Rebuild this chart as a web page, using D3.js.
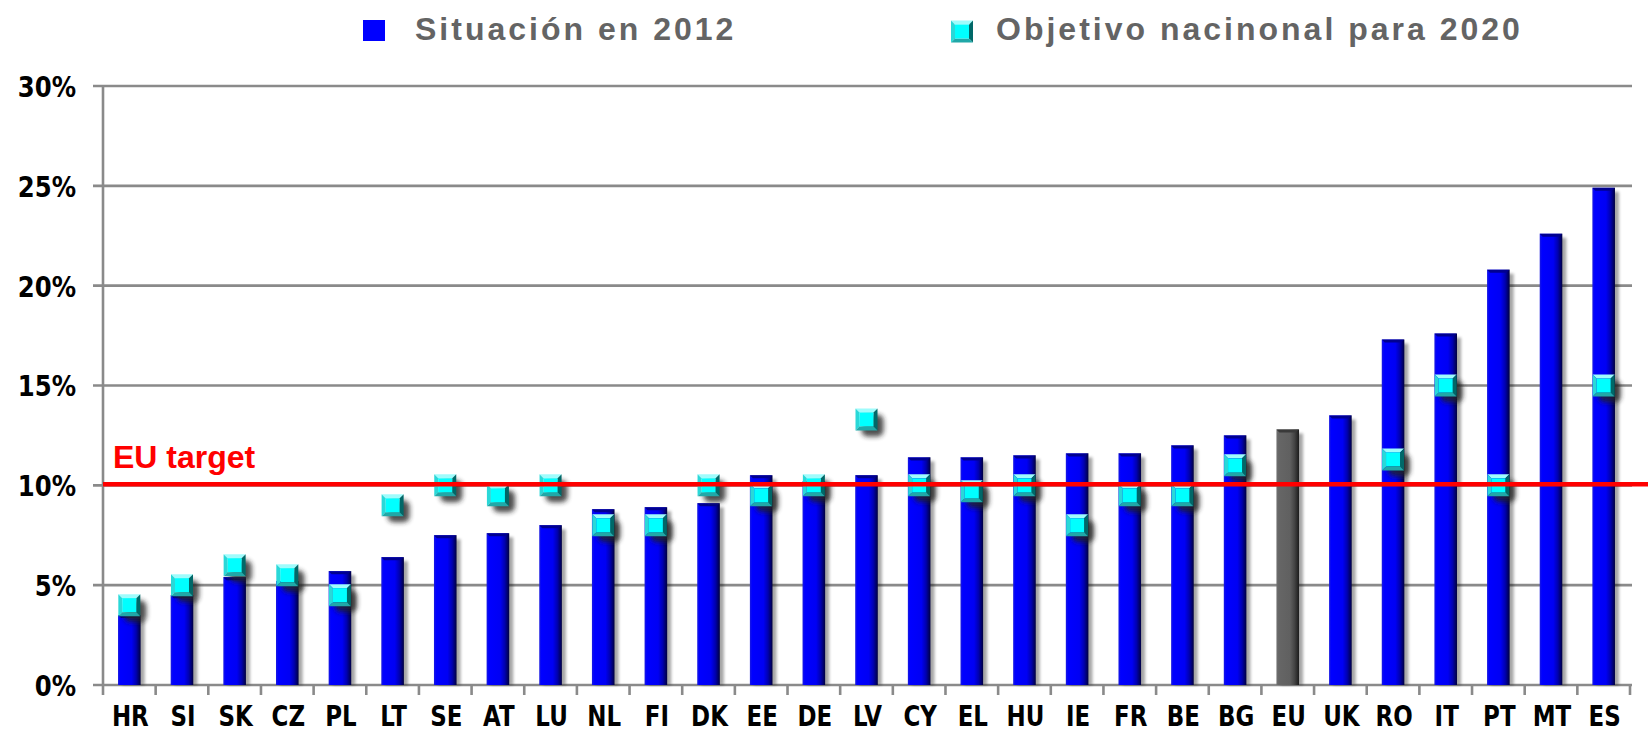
<!DOCTYPE html>
<html lang="es">
<head>
<meta charset="UTF-8">
<title>Situación 2012 vs objetivo 2020</title>
<script src="https://d3js.org/d3.v7.min.js"></script>
<style>
  body { margin: 0; background: #fff; }
  svg { display: block; }
</style>
</head>
<body>
<script>
// ---- datos ----
var countries = ["HR","SI","SK","CZ","PL","LT","SE","AT","LU","NL","FI","DK","EE","DE","LV",
                 "CY","EL","HU","IE","FR","BE","BG","EU","UK","RO","IT","PT","MT","ES"];
var situacion2012 = [3.5, 4.5, 5.4, 5.2, 5.7, 6.4, 7.5, 7.6, 8.0, 8.8, 8.9, 9.1, 10.5, 10.2, 10.5,
                     11.4, 11.4, 11.5, 11.6, 11.6, 12.0, 12.5, 12.8, 13.5, 17.3, 17.6, 20.8, 22.6, 24.9];
var objetivo2020 = [4.0, 5.0, 6.0, 5.5, 4.5, 9.0, 10.0, 9.5, 10.0, 8.0, 8.0, 10.0, 9.5, 10.0, 13.3,
                    10.0, 9.7, 10.0, 8.0, 9.5, 9.5, 11.0, null, null, 11.3, 15.0, 10.0, null, 15.0];
var yTicks = [0, 5, 10, 15, 20, 25, 30];
var euTarget = 10;
var legendLabels = ["Situación en 2012", "Objetivo nacinonal para 2020"];

var W = 1648, H = 734;
var svg = d3.select("body").append("svg").attr("width", W).attr("height", H);

var x = d3.scaleBand().domain(countries).range([103, 1630]).padding(0);
var y = d3.scaleLinear().domain([0, 30]).range([685, 86]);
var bw = 22.6, ms = 22;

// ---- defs: gradients, shadows ----
var defs = svg.append("defs");
function grad(id, stops) {
  var g = defs.append("linearGradient").attr("id", id).attr("x1", 0).attr("x2", 1).attr("y1", 0).attr("y2", 0);
  stops.forEach(function (s) { g.append("stop").attr("offset", s[0]).attr("stop-color", s[1]); });
}
grad("barBlue", [[0, "#1a1ae0"], [0.1, "#0000ff"], [0.6, "#0000f4"], [0.8, "#0000b0"], [1, "#000040"]]);
grad("barGray", [[0, "#707070"], [0.1, "#666"], [0.6, "#606060"], [0.8, "#444"], [1, "#1c1c1c"]]);
defs.append("filter").attr("id", "blur3").attr("x", "-50%").attr("y", "-50%").attr("width", "200%").attr("height", "200%")
  .append("feGaussianBlur").attr("stdDeviation", 2.6);
defs.append("filter").attr("id", "blur1").attr("x", "-50%").attr("y", "-10%").attr("width", "200%").attr("height", "120%")
  .append("feGaussianBlur").attr("stdDeviation", 1.5);

// ---- grid ----
var grid = svg.append("g");
grid.selectAll("line").data(yTicks).enter().append("line")
  .attr("x1", 93).attr("x2", 1632)
  .attr("y1", function (d) { return y(d); }).attr("y2", function (d) { return y(d); })
  .attr("stroke", "#8a8a8a").attr("stroke-width", 2.6);
// eje vertical
grid.append("line").attr("x1", 103).attr("x2", 103).attr("y1", y(30)).attr("y2", 695)
  .attr("stroke", "#8a8a8a").attr("stroke-width", 2.6);
// marcas entre categorías
var bounds = countries.map(function (c) { return x(c); }).concat([x.range()[1]]);
grid.selectAll("line.tk").data(bounds.slice(1)).enter().append("line").attr("class", "tk")
  .attr("x1", function (d) { return d; }).attr("x2", function (d) { return d; })
  .attr("y1", 685).attr("y2", 695)
  .attr("stroke", "#8a8a8a").attr("stroke-width", 2.6);

// ---- eje y etiquetas ----
var yAxis = svg.append("g").attr("transform", "translate(103,0)")
  .call(d3.axisLeft(y).tickValues(yTicks).tickSize(0).tickFormat(function (d) { return d + "%"; }));
yAxis.select(".domain").remove();
yAxis.selectAll("text")
  .attr("x", -32).attr("dy", "0.36em")
  .attr("transform", "scale(0.84,1)")
  .style("font-family", "DejaVu Sans").style("font-weight", "bold").style("font-size", "29px").attr("fill", "#000");

// ---- eje x etiquetas ----
var xAxis = svg.append("g").attr("transform", "translate(0,685)")
  .call(d3.axisBottom(x).tickSize(0));
xAxis.select(".domain").remove();
xAxis.selectAll("text")
  .attr("y", 41).attr("dy", 0)
  .attr("transform", "scale(0.82,1)")
  .style("font-family", "DejaVu Sans").style("font-weight", "bold").style("font-size", "28px").attr("fill", "#000");
xAxis.selectAll(".tick").each(function () {
  var t = d3.select(this).attr("transform");
  var tx = +t.match(/translate\(([-\d.]+)/)[1];
  d3.select(this).attr("transform", "translate(" + (tx + 1) + ",0)");
});

// ---- barras ----
var rows = countries.map(function (c, i) { return { c: c, v: situacion2012[i], t: objetivo2020[i] }; });
var bars = svg.append("g");
bars.selectAll("rect.sh").data(rows).enter().append("rect").attr("class", "sh")
  .attr("x", function (d) { return x(d.c) + x.bandwidth() / 2 - bw / 2 + 4; })
  .attr("y", function (d) { return y(d.v) + 4; })
  .attr("width", bw).attr("height", function (d) { return y(0) - y(d.v) - 4; })
  .attr("fill", "#000").attr("opacity", 0.35).attr("filter", "url(#blur1)");
bars.selectAll("rect.bar").data(rows).enter().append("rect").attr("class", "bar")
  .attr("x", function (d) { return x(d.c) + x.bandwidth() / 2 - bw / 2; })
  .attr("y", function (d) { return y(d.v); })
  .attr("width", bw).attr("height", function (d) { return y(0) - y(d.v); })
  .attr("fill", function (d) { return d.c === "EU" ? "url(#barGray)" : "url(#barBlue)"; });
// bisel superior
bars.selectAll("path.top").data(rows).enter().append("path").attr("class", "top")
  .attr("d", function (d) {
    var x0 = x(d.c) + x.bandwidth() / 2 - bw / 2, y0 = y(d.v);
    return "M" + x0 + "," + y0 + "H" + (x0 + bw) + "L" + (x0 + bw - 4) + "," + (y0 + 3) + "H" + (x0 + 3) + "Z";
  })
  .attr("fill", function (d) { return d.c === "EU" ? "#3a3a3a" : "#000090"; });

// ---- marcadores ----
function marker(g, cx, cy, s) {
  var h = s / 2, b = 4;
  var o = [cx - h, cy - h, cx + h, cy + h], i = [cx - h + b, cy - h + b, cx + h - b, cy + h - b];
  function poly(p, f) { g.append("polygon").attr("points", p.map(function (q) { return q.join(","); }).join(" ")).attr("fill", f); }
  poly([[o[0], o[1]], [o[2], o[1]], [i[2], i[1]], [i[0], i[1]]], "#9ffcfc");
  poly([[o[0], o[1]], [i[0], i[1]], [i[0], i[3]], [o[0], o[3]]], "#2ad8d8");
  poly([[o[2], o[1]], [o[2], o[3]], [i[2], i[3]], [i[2], i[1]]], "#006868");
  poly([[o[0], o[3]], [i[0], i[3]], [i[2], i[3]], [o[2], o[3]]], "#20a8a8");
  g.append("rect").attr("x", i[0]).attr("y", i[1]).attr("width", i[2] - i[0]).attr("height", i[3] - i[1]).attr("fill", "#00ffff");
}
var mk = svg.append("g");
var mrows = rows.filter(function (d) { return d.t !== null; });
mk.selectAll("rect.msh").data(mrows).enter().append("rect").attr("class", "msh")
  .attr("x", function (d) { return x(d.c) + x.bandwidth() / 2 - ms / 2 + 6; })
  .attr("y", function (d) { return y(d.t) - ms / 2 + 6; })
  .attr("width", ms).attr("height", ms).attr("rx", 6)
  .attr("fill", "#222").attr("opacity", 0.8).attr("filter", "url(#blur3)");
mrows.forEach(function (d) { marker(mk, x(d.c) + x.bandwidth() / 2, y(d.t), ms); });

// ---- objetivo UE ----
svg.append("line").attr("x1", 103).attr("x2", W)
  .attr("y1", y(euTarget) - 1).attr("y2", y(euTarget) - 1)
  .attr("stroke", "#ff0000").attr("stroke-width", 4.5);
svg.append("text").attr("x", 113).attr("y", 468).text("EU target")
  .style("font-family", "Liberation Sans").style("font-weight", "bold").style("font-size", "32px").attr("fill", "#ff0000");

// ---- leyenda ----
var lg = svg.append("g");
lg.append("rect").attr("x", 363).attr("y", 20).attr("width", 22).attr("height", 21).attr("fill", "#0000ff");
lg.append("text").attr("x", 415).attr("y", 40).text(legendLabels[0]);
marker(lg, 962, 31.5, 22);
lg.append("text").attr("x", 996).attr("y", 40).text(legendLabels[1]);
lg.selectAll("text")
  .style("font-family", "Liberation Sans").style("font-weight", "bold").style("font-size", "32px")
  .style("letter-spacing", "3px").attr("fill", "#646464");
</script>
</body>
</html>
